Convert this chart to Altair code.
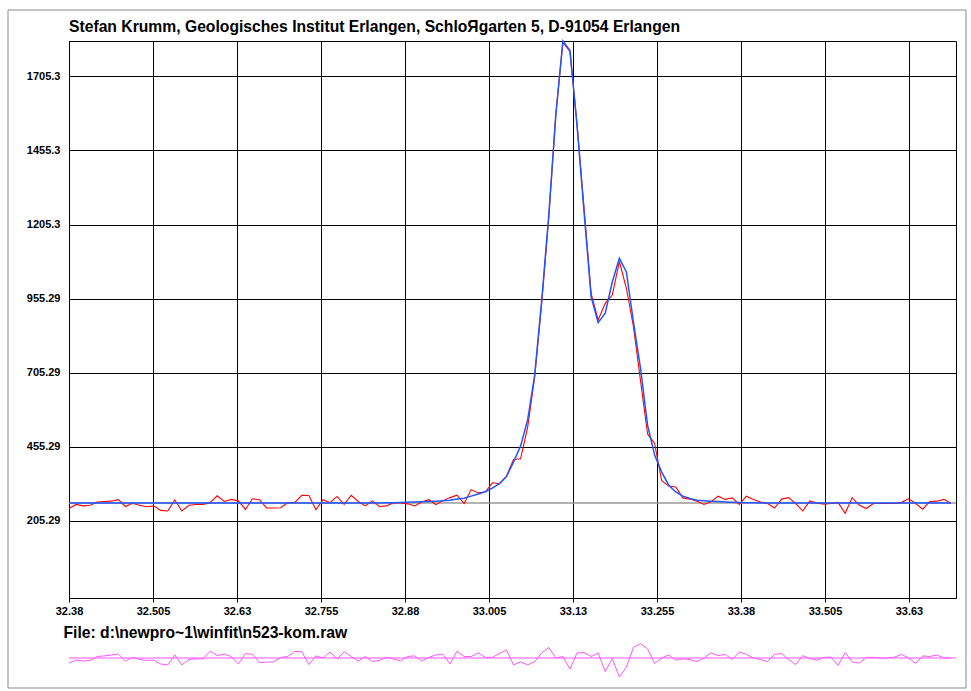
import altair as alt
import pandas as pd

# ---------------- data ----------------
x_start = 32.38
x_step = 0.0105

observed = [
    246, 260, 255, 257, 268, 270, 271, 276, 253, 264,
    257, 252, 255, 240, 238, 275, 238, 257, 260, 260,
    266, 289, 270, 277, 272, 243, 279, 276, 248, 248,
    249, 266, 267, 291, 290, 242, 276, 266, 287, 260,
    291, 270, 255, 272, 253, 255, 266, 265, 262, 255,
    268, 276, 259, 272, 283, 291, 263, 310, 299, 302,
    333, 330, 355, 412, 414, 520, 690, 940, 1230, 1580,
    1820, 1790, 1545, 1260, 973, 883, 939, 967, 1080, 990,
    860, 678, 498, 466, 340, 322, 319, 282, 278, 271,
    260, 269, 288, 277, 282, 260, 288, 277, 268, 263,
    248, 278, 283, 263, 238, 272, 265, 261, 263, 267,
    230, 283, 258, 246, 263, 263, 263, 263, 267, 279,
    263, 244, 270, 271, 277, 263,
]

fitted = (
    [265] * 45
    + [265.5, 266, 266.5, 267, 268, 269, 270, 271, 272.5, 274.5,
       278, 281, 288, 295, 303, 315, 330, 354, 403, 457,
       545, 697, 950, 1237, 1575, 1825, 1793, 1541, 1247, 961,
       874, 906, 1011, 1091, 1045, 876, 720, 528, 427, 369,
       325, 302, 288, 280, 274.5, 272.5, 271, 269.5, 268.5, 267.5,
       266.5, 266, 265.5]
    + [265] * 28
)

residual = [
    -17, -7, -10, -8, 5, 7, 10, 13, -10, 2,
    -5, -8, -7, -20, -23, 10, -23, -5, -3, -3,
    23, 8, 13, 5, -20, 15, 12, -15, -14, -13,
    2, 5, 22, 21, -22, 7, 0, 20, -3, 21,
    5, -10, 5, -12, -8, 2, -3, -10, 5, 7,
    -10, 2, 10, 13, -20, 23, 5, 5, 17, 2,
    2, 15, 27, -23, -13, -23, -12, 17, 35, 0,
    5, -37, 17, 18, 5, 17, -45, -2, -63, -30,
    35, 48, 30, -18, 0, 10, -7, -3, -5, -12,
    0, 17, 8, 12, -5, 20, 12, 0, -5, -12,
    12, 15, -5, -22, 8, -2, -7, 2, 3, -25,
    18, -13, -17, 2, 2, 0, 0, 3, 12, 0,
    -18, 7, 5, 10, 0, 0,
]

x_ticks = [32.38, 32.505, 32.63, 32.755, 32.88, 33.005, 33.13, 33.255, 33.38, 33.505, 33.63]
y_ticks = [205.29, 455.29, 705.29, 955.29, 1205.29, 1455.29, 1705.29]
x_domain = [32.38, 33.70]
y_domain = [-56, 1825]
res_domain = [-100, 100]
background_level = [265]

title_text = "Stefan Krumm, Geologisches Institut Erlangen, SchloЯgarten 5, D-91054 Erlangen"
file_text = "File: d:\\newpro~1\\winfit\\n523-kom.raw"

# ---------------- build table ----------------
two_theta = [round(x_start + x_step * i, 5) for i in range(len(observed))]
df = pd.DataFrame({"x": two_theta, "obs": observed, "fit": fitted, "res": residual})
bg_df = pd.DataFrame({"bg": background_level})
frame_df = pd.DataFrame({"a": [0]})

FONT = "Liberation Sans"
W, H = 887, 557

xscale = alt.Scale(domain=x_domain, nice=False, zero=False)
yscale = alt.Scale(domain=y_domain, nice=False, zero=False)

x_enc = alt.X(
    "x:Q",
    scale=xscale,
    axis=alt.Axis(
        values=x_ticks,
        format=".5~r",
        grid=True,
        gridColor="#000000",
        gridWidth=1,
        gridOpacity=1,
        domainColor="#000000",
        tickColor="#000000",
        tickSize=4,
        labelFont=FONT,
        labelFontSize=11,
        labelFontWeight="bold",
        labelColor="#000000",
        labelPadding=3,
        labelFlush=False,
        labelOverlap=False,
        title=file_text,
        titleFont=FONT,
        titleFontSize=15.7,
        titleFontWeight="bold",
        titleColor="#000000",
        titleAlign="left",
        titleAnchor="start",
        titleBaseline="alphabetic",
        titleX=-6,
        titleY=39,
    ),
)

y_main = alt.Y(
    "obs:Q",
    scale=yscale,
    axis=alt.Axis(
        values=y_ticks,
        format=".5~r",
        grid=True,
        gridColor="#000000",
        gridWidth=1,
        gridOpacity=1,
        domainColor="#000000",
        ticks=False,
        labelFont=FONT,
        labelFontSize=11,
        labelFontWeight="bold",
        labelColor="#000000",
        labelPadding=9,
        labelOverlap=False,
        title=None,
    ),
)

base = alt.Chart(df)

bg_rule = alt.Chart(bg_df).mark_rule(color="#9a9a9a", strokeWidth=1.6).encode(
    y=alt.Y("bg:Q", scale=yscale)
)
obs_line = base.mark_line(color="#ff0000", strokeWidth=1.1).encode(x=x_enc, y=y_main)
fit_line = base.mark_line(color="#2255ff", strokeWidth=1.5).encode(
    x=x_enc, y=alt.Y("fit:Q", scale=yscale)
)

main = alt.layer(bg_rule, obs_line, fit_line)

res_scale = alt.Scale(domain=res_domain, range=[647, 587], nice=False, zero=False)
res_line = base.mark_line(color="#ff55ff", strokeWidth=1).encode(
    x=x_enc, y=alt.Y("res:Q", scale=res_scale, axis=None)
)
res_zero = alt.Chart(pd.DataFrame({"z": [0]})).mark_rule(color="#ff55ff", strokeWidth=1.2).encode(
    y=alt.Y("z:Q", scale=res_scale, axis=None)
)
resid = alt.layer(res_zero, res_line)

frame = alt.Chart(frame_df).mark_rect(
    fillOpacity=0, stroke="#8a8a8a", strokeWidth=1
).encode(
    x=alt.value(-61), x2=alt.value(897), y=alt.value(-31), y2=alt.value(647)
)

chart = (
    alt.layer(frame, main, resid)
    .resolve_scale(y="independent")
    .properties(
        width=W,
        height=H,
        autosize=alt.AutoSizeParams(type="none"),
        padding={"left": 69, "top": 41, "right": 15, "bottom": 93},
        background="white",
        title=alt.TitleParams(
            text=title_text,
            anchor="start",
            frame="group",
            font=FONT,
            fontSize=15.7,
            fontWeight="bold",
            color="#000000",
            offset=-26,
        ),
    )
    .configure_view(stroke="#000000", strokeWidth=1)
)

chart.save("out.html", embed_options={"renderer": "svg", "actions": False})
